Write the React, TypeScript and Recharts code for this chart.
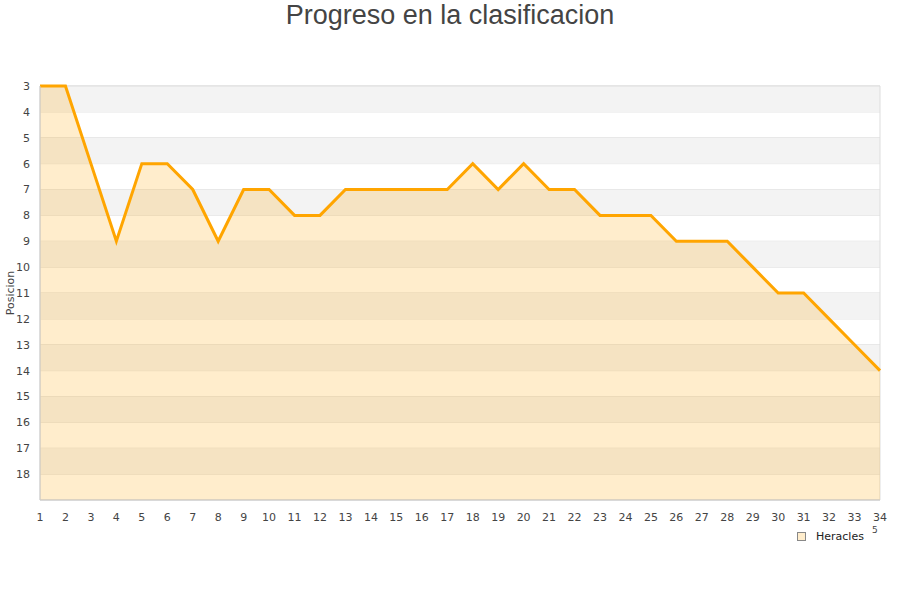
import React from 'react'
import { AreaChart, Area, XAxis, YAxis, CartesianGrid, ReferenceArea } from 'recharts'

// jornada numbers and league position after each one
const rounds = [1, 2, 3, 4, 5, 6, 7, 8, 9, 10, 11, 12, 13, 14, 15, 16, 17, 18, 19, 20, 21, 22, 23, 24, 25, 26, 27, 28, 29, 30, 31, 32, 33, 34]
const positions = [3, 3, 6, 9, 6, 6, 7, 9, 7, 7, 8, 8, 7, 7, 7, 7, 7, 6, 7, 6, 7, 7, 8, 8, 8, 9, 9, 9, 10, 11, 11, 12, 13, 14]
const positionTicks = [3, 4, 5, 6, 7, 8, 9, 10, 11, 12, 13, 14, 15, 16, 17, 18]
const shadedBands = [[3, 4], [5, 6], [7, 8], [9, 10], [11, 12], [13, 14], [15, 16], [17, 18]]

const data = rounds.map((r, i) => ({ round: r, pos: positions[i] }))

const tickStyle = { fontSize: 11, fill: '#444', fontFamily: 'DejaVu Sans' }

export default function App() {
    return (
        <div style={{ position: 'absolute', left: 0, top: 0, width: 900, height: 600, background: '#fff' }}>
            <div
                style={{
                    position: 'absolute',
                    left: 0,
                    top: -1,
                    width: 900,
                    textAlign: 'center',
                    fontFamily: 'Liberation Sans',
                    fontSize: 27,
                    color: '#444',
                    lineHeight: '32px',
                }}
            >
                Progreso en la clasificacion
            </div>
            <AreaChart width={900} height={600} data={data} margin={{ top: 86, right: 20, bottom: 70, left: 0 }}>
                {shadedBands.map(([a, b]) => (
                    <ReferenceArea key={a} y1={a} y2={b} fill="#f3f3f3" fillOpacity={1} stroke="none" ifOverflow="hidden" />
                ))}
                <CartesianGrid vertical={false} stroke="#dddddd" />
                {/* plot frame */}
                <ReferenceArea x1={1} x2={34} y1={3} y2={19} fill="none" stroke="#dddddd" strokeWidth={1} />
                <XAxis
                    dataKey="round"
                    type="number"
                    domain={[1, 34]}
                    ticks={rounds}
                    interval={0}
                    tickLine={false}
                    tickSize={0}
                    tickMargin={13}
                    axisLine={{ stroke: '#cccccc' }}
                    tick={tickStyle}
                    height={30}
                />
                <YAxis
                    type="number"
                    reversed
                    domain={[3, 19]}
                    ticks={positionTicks}
                    interval={0}
                    tickLine={false}
                    tickSize={0}
                    tickMargin={10}
                    axisLine={{ stroke: '#cccccc' }}
                    tick={tickStyle}
                    width={40}
                    label={{
                        content: () => (
                            <text
                                x={14}
                                y={293}
                                transform="rotate(-90 14 293)"
                                textAnchor="middle"
                                fontSize={11}
                                fill="#444"
                                fontFamily="DejaVu Sans"
                            >
                                Posicion
                            </text>
                        ),
                    }}
                />
                <Area
                    type="linear"
                    dataKey="pos"
                    baseValue={19}
                    stroke="#ffa500"
                    strokeWidth={3}
                    fill="#ffa500"
                    fillOpacity={0.2}
                    dot={false}
                    activeDot={false}
                    isAnimationActive={false}
                />
            </AreaChart>
            <div
                style={{
                    position: 'absolute',
                    left: 797,
                    top: 530,
                    display: 'flex',
                    alignItems: 'center',
                    fontFamily: 'DejaVu Sans',
                    fontSize: 11,
                    color: '#222',
                }}
            >
                <div style={{ width: 7, height: 7, background: '#ffedcc', border: '1px solid #888', marginRight: 10 }} />
                <span>Heracles</span>
            </div>
            <span
                style={{
                    position: 'absolute',
                    left: 872,
                    top: 525,
                    fontFamily: 'DejaVu Sans',
                    fontSize: 9,
                    color: '#444',
                }}
            >
                5
            </span>
        </div>
    )
}
